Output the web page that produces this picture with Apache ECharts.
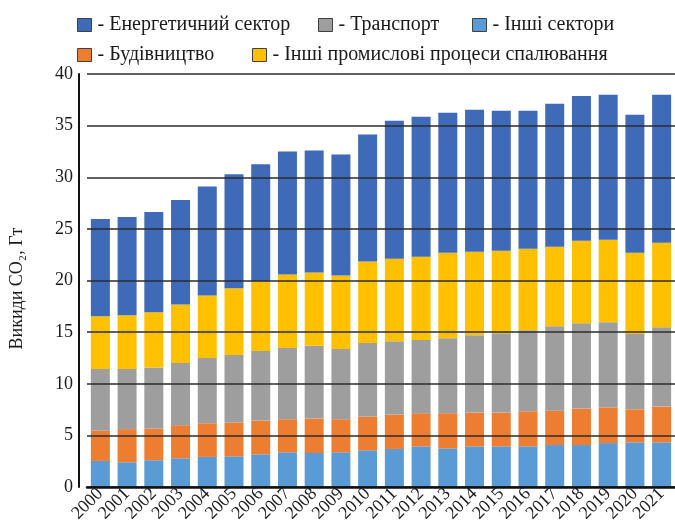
<!DOCTYPE html>
<html>
<head>
<meta charset="utf-8">
<script src="https://cdn.jsdelivr.net/npm/echarts@6/dist/echarts.min.js"></script>
<style>html,body{margin:0;padding:0;background:#fff}#c{width:675px;height:525px}</style>
</head>
<body>
<div id="c"></div>
<script>
const years = ['2000','2001','2002','2003','2004','2005','2006','2007','2008','2009','2010','2011','2012','2013','2014','2015','2016','2017','2018','2019','2020','2021'];
const otherSectors = [2.53,2.40,2.60,2.79,2.92,2.98,3.17,3.37,3.30,3.37,3.56,3.69,3.94,3.75,3.94,3.94,3.94,4.07,4.07,4.26,4.33,4.33];
const buildings = [2.95,3.21,3.07,3.20,3.26,3.27,3.27,3.20,3.33,3.20,3.27,3.33,3.21,3.40,3.27,3.27,3.40,3.33,3.53,3.46,3.20,3.46];
const transport = [5.96,5.83,5.90,6.03,6.32,6.54,6.73,6.89,7.06,6.80,7.11,7.11,7.08,7.27,7.50,7.69,7.85,8.18,8.27,8.24,7.28,7.69];
const industry = [5.10,5.19,5.35,5.67,6.06,6.47,6.77,7.12,7.08,7.11,7.91,7.99,8.08,8.27,8.08,7.98,7.89,7.69,7.98,7.98,7.88,8.17];
const energy = [9.42,9.52,9.71,10.11,10.54,11.04,11.31,11.92,11.83,11.72,12.28,13.36,13.56,13.56,13.75,13.56,13.36,13.85,14.03,14.04,13.37,14.33];
const yTicks = [0,5,10,15,20,25,30,35,40];

const names = {
  energy: 'Енергетичний сектор',
  transport: 'Транспорт',
  other: 'Інші сектори',
  build: 'Будівництво',
  industry: 'Інші промислові процеси спалювання'
};
const colors = {
  energy: '#3E6AB7',
  transport: '#9E9E9E',
  other: '#5B9BD5',
  build: '#ED7D31',
  industry: '#FFC000'
};
const FONT = 'Liberation Serif';

function legendAt(key, left, top) {
  return {
    data: [names[key]],
    left: left, top: top,
    orient: 'horizontal',
    icon: 'rect',
    itemWidth: 14, itemHeight: 13,
    itemGap: 0,
    padding: 0,
    formatter: n => '- ' + n,
    textStyle: { fontFamily: FONT, fontSize: 20, color: '#1a1a1a', padding: [0,0,0,1] },
    itemStyle: { borderColor: '#404040', borderWidth: 1 }
  };
}

function bar(key, data) {
  return {
    name: names[key],
    type: 'bar',
    stack: 'total',
    data: data,
    barWidth: 19,
    itemStyle: { color: colors[key] },
    z: 2
  };
}

const chart = echarts.init(document.getElementById('c'), null, { renderer: 'canvas' });
chart.setOption({
  animation: false,
  backgroundColor: '#fff',
  legend: [
    legendAt('energy', 77, 15),
    legendAt('transport', 318, 15),
    legendAt('other', 472, 15),
    legendAt('build', 77, 45),
    legendAt('industry', 252, 45)
  ],
  grid: { left: 86, right: 0, top: 74, bottom: 35, containLabel: false },
  xAxis: {
    type: 'category',
    data: years,
    boundaryGap: true,
    z: 6,
    axisLine: { show: true, lineStyle: { color: '#111', width: 2.5 } },
    axisTick: { show: false },
    axisLabel: {
      rotate: 45, interval: 0, margin: 4,
      fontFamily: FONT, fontSize: 18, color: '#1a1a1a'
    }
  },
  yAxis: {
    type: 'value',
    min: yTicks[0], max: yTicks[yTicks.length - 1], interval: 5,
    offset: 8,
    z: 5,
    name: 'Викиди CO₂, Гт',
    nameLocation: 'middle',
    nameGap: 53,
    nameRotate: 90,
    nameTextStyle: { fontFamily: FONT, fontSize: 18, color: '#1a1a1a', padding: [0, 16, 0, 0] },
    axisLine: { show: true, lineStyle: { color: '#111', width: 2 } },
    axisTick: { show: false },
    axisLabel: { margin: 6, fontFamily: FONT, fontSize: 18, color: '#1a1a1a' },
    splitLine: { show: true, lineStyle: { color: '#2b2b2b', width: 1.5 } }
  },
  series: [
    bar('other', otherSectors),
    bar('build', buildings),
    bar('transport', transport),
    bar('industry', industry),
    bar('energy', energy)
  ]
});
</script>
</body>
</html>
